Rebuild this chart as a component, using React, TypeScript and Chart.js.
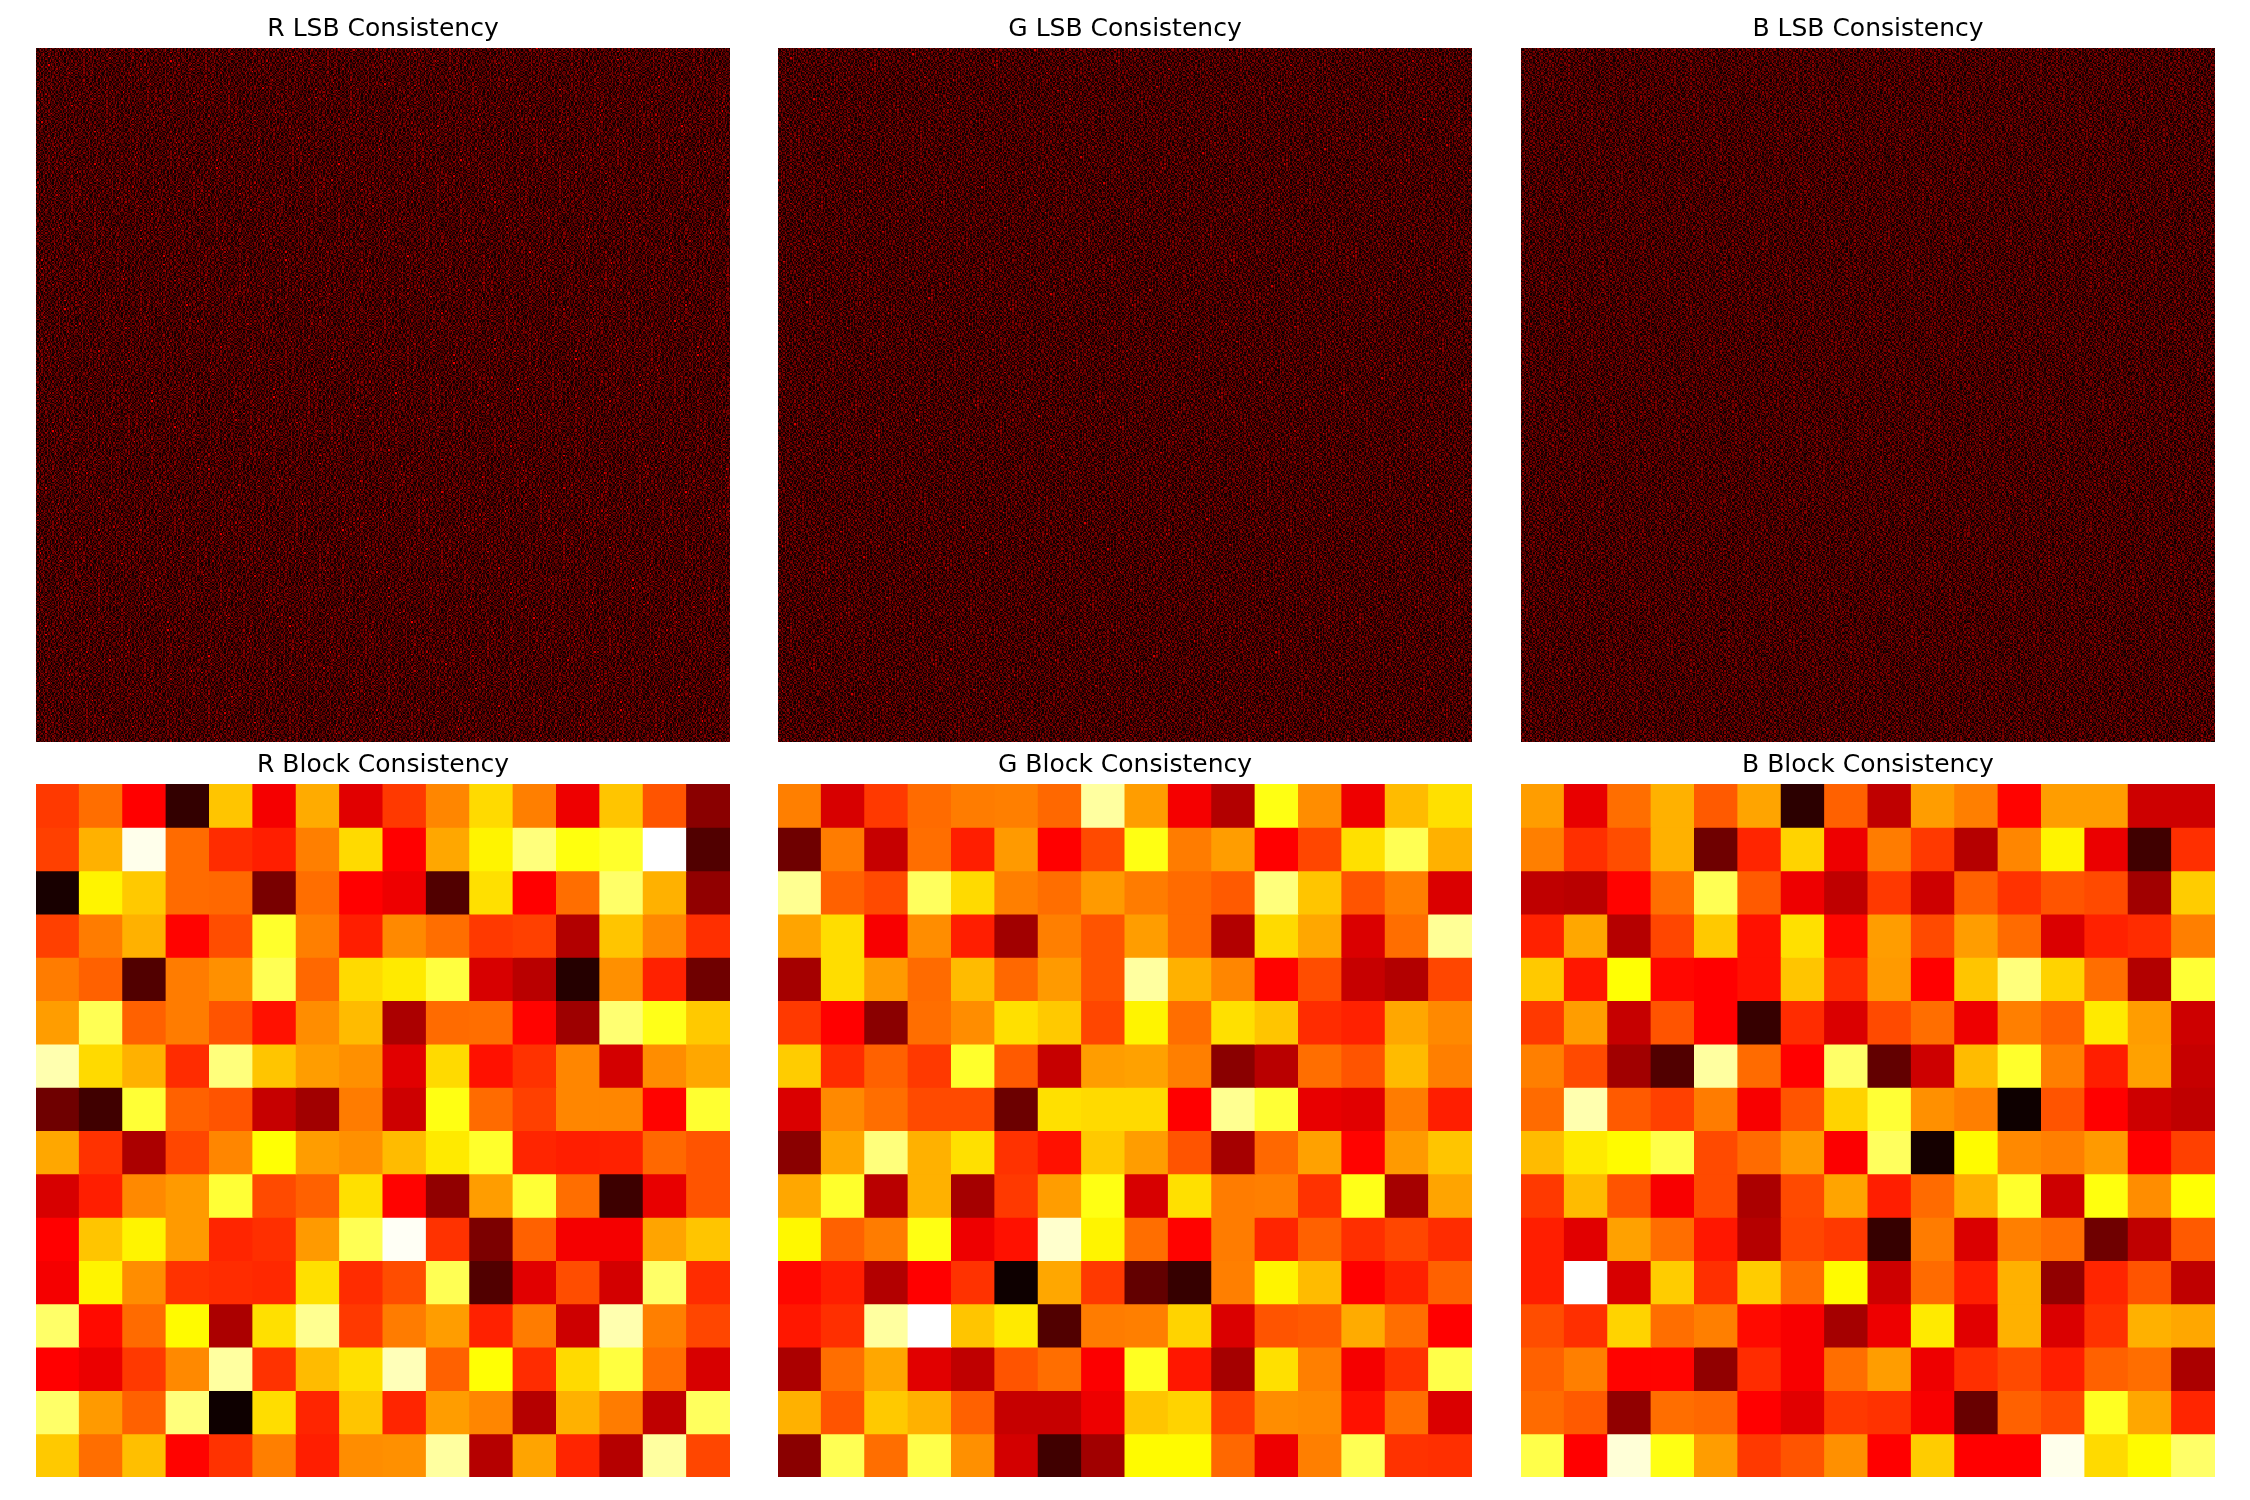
import React, { useEffect, useRef } from "react";
import { Chart, registerables } from "chart.js";

Chart.register(...registerables);

const channels = ["R", "G", "B"];
const rowLabels = Array.from({ length: 16 }, (_, i) => String(i));

// Block consistency, % position along the "hot" colour scale, read cell by cell.
const blockR = [
  [45,53,36.5,6,66,35,62,32,45,56.5,69,55.5,34,66,49,19],
  [46,63,98,52.5,43,41,55.5,69,36.5,61.5,73,87,76,79,100,10.5],
  [2,73,66.5,52.5,52,16.5,53,36.5,34,10.5,70,36.5,53,85,63,20],
  [46,55,63,37,48,79,55.5,41,57,53,45,46,25,66,57,43.5],
  [55,51,10.5,55,58,83,52,69,71.5,81,30.5,26,4,58,41.5,15],
  [60,83,51,55,49,39,57.5,64.5,24,52.5,53,37,22,86,77,66.5],
  [92,69,63,43,87,66,60,58,32,69,39,44,56.5,30,57.5,61.5],
  [15,8,80,51,49,28,22.5,55,29,76.5,52.5,46,56.5,56.5,37,79.5],
  [61.5,44,24,47,56.5,75,60,58,64.5,71.5,79,42,41,41.5,52,49],
  [30.5,41,57,59.5,80,47.5,51,70,37,20,60,80,53,7.5,33,49],
  [36.5,66,73,59.5,42,43.5,59.5,83,99,44,17,51,35,35,61,66],
  [35,73,57.5,44,43,42.5,70,43,48,83,10.5,32,48,30,85,43],
  [85,38,52.5,74,24,70,89,45,55,60,41.5,55,29,92,55.5,47],
  [36.5,33.5,45,57,90.5,44,64.5,70,93,51,75,43,69,81,53,30.5],
  [85,59.5,51,87,0.5,69.5,42,66,42,60,56.5,25.5,63,55,27,84],
  [66.5,53,65,37,44,55.5,41,57.5,58,90.5,25.5,61,42,25.5,90.5,47],
];
const blockG = [
  [55.5,30.5,45,52.5,55,55.5,52,90.5,60,35,25,76.5,57.5,34,64.5,70],
  [15,55,28,53,41,59.5,36.5,47.5,76.5,55,60,36.5,47,70,83,63],
  [89,51,47.5,84,69,55.5,53,59.5,55,52.5,50,87,66,49,55.5,31],
  [61,69.5,35.5,57.5,41,22.5,55.5,49,60,52.5,25,69,61.5,31,53,89.5],
  [23,69.5,59.5,52.5,64.5,52,59.5,49,90.5,63,56.5,37,48,28,25,47],
  [45,36.5,19,53,57.5,70,66.5,47,73,53,70,66,43,41.5,61.5,57],
  [67,43,51,45,79,50,28,60,60.5,55.5,19,26,53,49,64.5,55.5],
  [31,57,53,47.5,47.5,14.5,70,69,69,36.5,89,80,33,32,55,41],
  [19,61.5,87,63,70,44,39,66.5,60,49,23,52,60.5,37,59.5,66],
  [61.5,79,26,63,23,45,60,76.5,30.5,70,55,55.5,44,77,23,61],
  [73.5,51,55,76.5,34,39,95,73,53,37,55,42,51,43.5,47,43],
  [37.5,41,25,36.5,44,0.5,61.5,45,13,6.5,55.5,73,64.5,36.5,41.5,51],
  [40,43.5,90.5,100,66,71.5,10.5,55,55.5,68,31,49,50,62,53,36.5],
  [24,53,61.5,32,27,49,53,36,78,40,23,70,55.5,35,44,82],
  [63,49,66.5,63,51,28,28,34,66,68,46,57.5,57,39,53,31],
  [19,83,53,82,58,30,8,22.5,74,74,52,34,55.5,83,44,43.5],
];
const blockB = [
  [60,33,53,63,50,61,5,51,27,60,55.5,37,60,60,29,29],
  [55.5,43.5,48,63,15,42,68,34,55,45,25.5,56.5,73,33.5,8,43.5],
  [27,26,37,53,83,50,34,27,45,29,51,44,49,47.5,22.5,67],
  [41.5,61.5,25.5,47,66.5,39,70,37.5,60,47.5,60,52.5,31,41.5,43,55.5],
  [66.5,40,75,37.5,36.5,39,66,43,59.5,36.5,66,87,68,53,25,80],
  [45,60,28,49,36.5,6.5,43,31,47.5,53,34,55.5,51,71.5,60,29],
  [55.5,47.5,22.5,10.5,90.5,52.5,36.5,85,13,29,64.5,79,55.5,41,60.5,28],
  [52.5,92,50,46,55,35.5,49,68,80,58,55.5,0.5,49,36.5,29,27],
  [64.5,71.5,74,82,47.5,52.5,59.5,36,84,1.5,74,57,55.5,59.5,36.5,46],
  [45,64.5,49,35.5,47.5,24,47.5,61,41,52.5,63,79,29,76,57.5,75],
  [41,32,60.5,53,40,25.5,47,45,6.5,55,31,55.5,53,15,27,50],
  [41,100,30.5,67,43.5,67,53,74,29,52.5,41,63,20,42,49,27],
  [48,43.5,68,53,55.5,38,35.5,23,34,71.5,32,63,31,44,63,61.5],
  [51,55.5,37,37,20,43,35.5,53,60,34,43.5,47.5,41,51,53,24],
  [52.5,50,20,53,52,36.5,32,45,44,35.5,14,51,47.5,78,61.5,42],
  [82,36.5,96,76.5,60,45,49,58,36.5,67,36.5,36.5,98,69,74,85],
];
const blockValues = [blockR, blockG, blockB];

// LSB consistency: one typed sample patch per channel (digit = brightness step), estimated from zooms.
const lsbPatchR = [
  "213042152031420315204213052143",
  "302514031263014230412503120324",
  "120341205312403162031420514203",
  "431203140251302413025031240312",
  "024136201430215304127031430251",
  "312045130241503214031253014203",
  "150321402813024510320413205132",
  "203415032104231306214025130421",
  "421302153042510231403152043120",
  "032514203160324015231042315034",
  "214031425302143502413061324102",
  "305120314024315021352410230514",
  "123405213915204130425031423025",
  "410263041320512403123504120341",
  "231042153041320315420213605124",
  "052314205132403614032145031230",
  "314025130423105221403250314215",
  "203140321560241403125042130342",
  "142503214031352041230314725013",
  "320415031240214530412053141230",
  "051324106231403120453102304215",
  "413205142031520431201435120340",
  "230143250314203514032021534102",
  "102534013425130240315243012351",
  "341206314015243108214035120423",
  "215031420341025313042512403104",
  "043125032514301420315204132052",
  "320414213052413205140321405231",
  "153204130425031214320531024130",
  "402315241036214053102413250314",
];
const lsbPatchG = [
  "132041520314203512403125043120",
  "405213041325140231520410231054",
  "210352014203051324103241530142",
  "314025134102321405312053104231",
  "023141205316240130254130421305",
  "142503214031052341203105243012",
  "301240352104231504130425102314",
  "520314012835120241503213041520",
  "134025301424103152041320514203",
  "203514230105324013251403120341",
  "410321504213041203104523014250",
  "025143102304152431620314205132",
  "314205213051402503124031523014",
  "130421350124031240153204130420",
  "251034102513204315032140253103",
  "402315043120513024120351402314",
  "123041250314205143203124031520",
  "350214130425031021540321304152",
  "041325204103152340125043120431",
  "213540312042301541320310524013",
  "324015023514120340251413205130",
  "105231410325042135012304125042",
  "432014253101340213405231041320",
  "210453102314520314031250324015",
  "053120341420135021724103512403",
  "314205013254103240153021403125",
  "120341520132045314203514230410",
  "403152041023514021320403152032",
  "231045130241302514013250410253",
  "014320215403120341526031241305",
];
const lsbPatchB = [
  "314205130241520314032154031205",
  "102531420130342510243012503124",
  "253014032514203124015320413021",
  "041325102403152031425103241350",
  "320140531241023514102345013204",
  "135204013520314203241503120431",
  "402315240143051324013225041320",
  "214031352014230410532140315204",
  "031452103250143125043102413025",
  "520314024136025301241530214031",
  "143025312041513240320415302143",
  "302510423105204315103241250134",
  "214035142310324051420315031520",
  "051324203415103240213504123041",
  "420131052304251431502103241305",
  "135024314120530214035241035120",
  "203415025143012350142305124032",
  "314102530241304215203140321450",
  "102350142031420531024253104213",
  "540213014325103420315041320140",
  "231405320140532104123504210352",
  "024131425203041351420312503104",
  "315240103512403120534102314250",
  "103425314021350142036214053120",
  "250314120534102314201345120341",
  "412031405213240351024103251304",
  "130524021340152034312504103215",
  "304215132405103241450213140253",
  "021430510324215013203415203140",
  "243105241035032140513024321051",
];
const lsbPatches = [lsbPatchR, lsbPatchG, lsbPatchB];

const clamp = (v: number) => Math.min(1, Math.max(0, v));
function hot(percent: number): string {
  const t = percent / 100;
  const r = t < 0.365 ? 0.0416 + (0.9584 * t) / 0.365 : 1;
  const g = clamp((t - 0.365) / 0.381);
  const b = clamp((t - 0.746) / 0.254);
  return `rgb(${Math.round(r * 255)},${Math.round(g * 255)},${Math.round(b * 255)})`;
}

const LSB_SIZE = 512;
const digitStep = 3.9; // % of the colour scale per digit

function lsbPlugin(patch: string[]) {
  return {
    id: "lsbCells",
    beforeDatasetsDraw(chart: any) {
      const { ctx, scales, chartArea } = chart;
      const edgesX: number[] = [];
      const edgesY: number[] = [];
      for (let i = 0; i <= LSB_SIZE; i++) {
        edgesX.push(Math.round(scales.x.getPixelForValue(i)));
        edgesY.push(Math.round(scales.y.getPixelForValue(i)));
      }
      const palette = Array.from({ length: 10 }, (_, d) => hot(d * digitStep));
      const rows = patch.length;
      const cols = patch[0].length;
      ctx.save();
      ctx.beginPath();
      ctx.rect(chartArea.left, chartArea.top, chartArea.width, chartArea.height);
      ctx.clip();
      for (let r = 0; r < LSB_SIZE; r++) {
        for (let c = 0; c < LSB_SIZE; c++) {
          // staggered repeats of the patch, so that no straight seams show
          const rowAt = (r + Math.floor(c / cols) * 11) % rows;
          const colAt = (c + Math.floor(r / rows) * 13) % cols;
          ctx.fillStyle = palette[patch[rowAt].charCodeAt(colAt) - 48];
          ctx.fillRect(edgesX[c], edgesY[r], edgesX[c + 1] - edgesX[c], edgesY[r + 1] - edgesY[r]);
        }
      }
      ctx.restore();
    },
  };
}

const titleOptions = (text: string) => ({
  display: true,
  text,
  color: "#000000",
  font: { family: "'DejaVu Sans'", size: 25, weight: "normal" as const, lineHeight: 1.2 },
  padding: { top: 14, bottom: 4 },
});

const basePlugins = (text: string) => ({
  legend: { display: false },
  tooltip: { enabled: false },
  title: titleOptions(text),
});

function LsbPanel({ index, left, top, w, h }: any) {
  const ref = useRef<HTMLCanvasElement>(null);
  useEffect(() => {
    const chart = new Chart(ref.current!, {
      type: "scatter",
      data: { datasets: [{ data: [] }] },
      options: {
        animation: false,
        responsive: false,
        devicePixelRatio: 1,
        plugins: basePlugins(`${channels[index]} LSB Consistency`),
        scales: {
          x: { display: false, type: "linear", min: 0, max: LSB_SIZE },
          y: { display: false, type: "linear", min: 0, max: LSB_SIZE, reverse: true },
        },
      },
      plugins: [lsbPlugin(lsbPatches[index])],
    } as any);
    return () => chart.destroy();
  }, [index]);
  return <canvas ref={ref} width={w} height={h} style={{ position: "absolute", left, top, width: w, height: h }} />;
}

function BlockPanel({ index, left, top, w, h }: any) {
  const ref = useRef<HTMLCanvasElement>(null);
  useEffect(() => {
    const chart = new Chart(ref.current!, {
      type: "bar",
      data: {
        labels: rowLabels,
        datasets: blockValues[index].map((row) => ({
          data: row.map(() => 1),
          backgroundColor: row.map(hot),
          borderWidth: 0,
          barPercentage: 1,
          categoryPercentage: 1,
          inflateAmount: 0.5,
        })),
      },
      options: {
        animation: false,
        responsive: false,
        devicePixelRatio: 1,
        plugins: basePlugins(`${channels[index]} Block Consistency`),
        scales: {
          x: { display: false, stacked: true },
          y: { display: false, stacked: true, min: 0, max: 16, reverse: true },
        },
      },
    } as any);
    return () => chart.destroy();
  }, [index]);
  return <canvas ref={ref} width={w} height={h} style={{ position: "absolute", left, top, width: w, height: h }} />;
}

const columnLefts = [36, 778, 1521];

export default function App() {
  return (
    <div style={{ position: "absolute", left: 0, top: 0, width: 2250, height: 1500, background: "#ffffff", overflow: "hidden" }}>
      {columnLefts.map((left, i) => (
        <LsbPanel key={`l${i}`} index={i} left={left} top={0} w={694} h={742} />
      ))}
      {columnLefts.map((left, i) => (
        <BlockPanel key={`b${i}`} index={i} left={left} top={736} w={694} h={741} />
      ))}
    </div>
  );
}
